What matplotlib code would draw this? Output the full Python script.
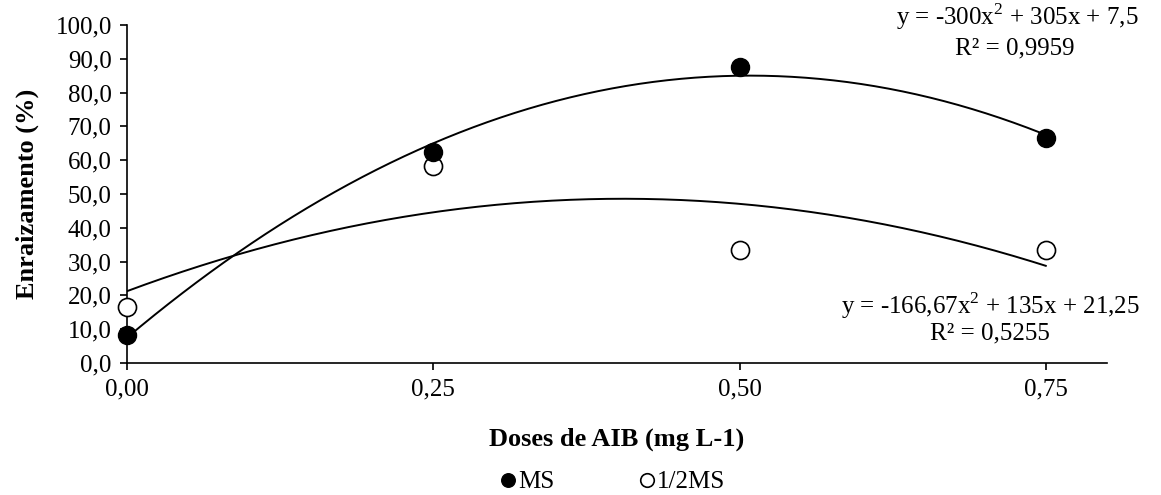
import numpy as np
import matplotlib
matplotlib.use("Agg")
import matplotlib.pyplot as plt

plt.rcParams['font.family'] = ['Liberation Serif', 'DejaVu Serif']
plt.rcParams['mathtext.fontset'] = 'custom'
plt.rcParams['mathtext.rm'] = 'Liberation Serif'

doses = [0.0, 0.25, 0.50, 0.75]
ms = [8.3, 62.5, 87.5, 66.7]
half_ms = [16.7, 58.3, 33.3, 33.3]

# trend line coefficients (a, b, c) from the equations on the chart
coef_ms = [-300.0, 305.0, 7.5]
coef_half = [-166.67, 135.0, 21.25]

xticks = [0.0, 0.25, 0.50, 0.75]
xtick_labels = ['0,00', '0,25', '0,50', '0,75']
yticks = np.arange(0, 101, 10)

fig = plt.figure(figsize=(11.61, 4.95), dpi=100)
ax = fig.add_axes([0.1094, 0.2667, 0.8441, 0.6828])

xs = np.linspace(0, 0.75, 200)
ax.plot(xs, np.polyval(coef_ms, xs), color='black', lw=1.4, zorder=2)
ax.plot(xs, np.polyval(coef_half, xs), color='black', lw=1.4, zorder=2)

ax.plot(doses, half_ms, 'o', ms=13, mfc='white', mec='black', mew=1.2,
        label='1/2MS', zorder=3, clip_on=False)
ax.plot(doses, ms, 'o', ms=13, mfc='black', mec='black',
        label='MS', zorder=4, clip_on=False)

ax.set_xlim(0, 0.8)
ax.set_ylim(0, 100)
ax.set_xticks(xticks)
ax.set_xticklabels(xtick_labels)
ax.set_yticks(yticks)
ax.set_yticklabels([f'{v:.1f}'.replace('.', ',') for v in yticks])
ax.tick_params(labelsize=18, direction='out', length=5, width=1.2, pad=6)

for s in ['top', 'right']:
    ax.spines[s].set_visible(False)
for s in ['left', 'bottom']:
    ax.spines[s].set_linewidth(1.2)

ax.set_xlabel('Doses de AIB (mg L-1)', fontsize=19, fontweight='bold', labelpad=20)
ax.set_ylabel('Enraizamento (%)', fontsize=19, fontweight='bold', labelpad=12)

fig.text(1017 / 1161, 1 - 17 / 495, 'y = -300x$^{2}$ + 305x + 7,5', fontsize=18,
         ha='center', va='center')
fig.text(1015 / 1161, 1 - 48 / 495, 'R² = 0,9959', fontsize=18,
         ha='center', va='center')
fig.text(990 / 1161, 1 - 306 / 495, 'y = -166,67x$^{2}$ + 135x + 21,25', fontsize=18,
         ha='center', va='center')
fig.text(990 / 1161, 1 - 333 / 495, 'R² = 0,5255', fontsize=18,
         ha='center', va='center')

handles, labels = ax.get_legend_handles_labels()
leg = fig.legend(handles[::-1], labels[::-1], loc='center', ncol=2,
                 bbox_to_anchor=(0.5277, 1 - 482 / 495), frameon=False,
                 fontsize=18, markerscale=0.75, handlelength=0.6,
                 handletextpad=0.1, columnspacing=3.4)

fig.savefig('out.png', dpi=100)
